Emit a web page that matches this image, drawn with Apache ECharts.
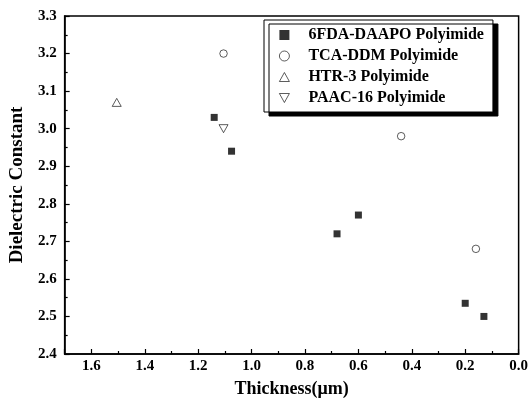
<!DOCTYPE html>
<html>
<head>
<meta charset="utf-8">
<script src="https://cdn.jsdelivr.net/npm/echarts@6/dist/echarts.min.js"></script>
<style>
html, body { margin: 0; padding: 0; background: #fff; }
#graph { width: 531px; height: 403px; }
</style>
</head>
<body>
<div id="graph"></div>
<script>
// thickness (um) / dielectric constant
var daapoX = [1.14, 1.075, 0.68, 0.60, 0.20, 0.13];
var daapoY = [3.03, 2.94, 2.72, 2.77, 2.535, 2.50];
var tcaX = [1.105, 0.44, 0.16];
var tcaY = [3.20, 2.98, 2.68];
var htrX = [1.505];
var htrY = [3.07];
var paacX = [1.105];
var paacY = [3.00];

var seriesNames = ['6FDA-DAAPO Polyimide', 'TCA-DDM Polyimide', 'HTR-3 Polyimide', 'PAAC-16 Polyimide'];

function pairs(xs, ys) {
    var out = [];
    for (var i = 0; i < xs.length; i++) out.push([xs[i], ys[i]]);
    return out;
}

var font = '"Liberation Serif", "Times New Roman", serif';
var downTriangle = 'path://M0,0 L10,0 L5,9 Z';
var upTriangle = 'path://M5,0 L10,9 L0,9 Z';
var dom = document.getElementById("graph");
var myChart = echarts.init(dom);
var option = {
    backgroundColor: '#fff',
    animation: false,
    grid: {
        left: 64, right: 10, top: 16, bottom: 45,
        show: true,
        borderColor: '#000',
        borderWidth: 1.5
    },
    legend: {
        orient: 'vertical',
        left: 264,
        top: 20,
        padding: [7, 9, 6, 15],
        itemGap: 5,
        itemWidth: 10,
        itemHeight: 10,
        backgroundColor: '#fff',
        borderColor: '#000',
        borderWidth: 1,
        borderRadius: 0,
        shadowColor: '#000',
        shadowBlur: 0,
        shadowOffsetX: 5,
        shadowOffsetY: 4,
        itemStyle: { borderWidth: 0.8 },
        textStyle: {
            fontFamily: font,
            fontWeight: 'bold',
            fontSize: 16,
            lineHeight: 16,
            color: '#000',
            padding: [0, 0, 0, 14]
        },
        data: seriesNames
    },
    xAxis: {
        type: 'value',
        inverse: true,
        min: 0,
        max: 1.7,
        interval: 0.2,
        name: 'Thickness(μm)',
        nameLocation: 'middle',
        nameGap: 26,
        nameTextStyle: { fontFamily: font, fontWeight: 'bold', fontSize: 18, color: '#000' },
        axisLine: { onZero: false, lineStyle: { color: '#000', width: 1.5 } },
        axisTick: { inside: true, length: 5, lineStyle: { color: '#000', width: 1.2 } },
        minorTick: { show: true, splitNumber: 2, length: 3, lineStyle: { color: '#000', width: 1.2 } },
        splitLine: { show: false },
        axisLabel: {
            showMaxLabel: false,
            margin: 5,
            fontFamily: font, fontWeight: 'bold', fontSize: 15, color: '#000',
            formatter: function (v) { return v.toFixed(1); }
        }
    },
    yAxis: {
        type: 'value',
        min: 2.4,
        max: 3.3,
        interval: 0.1,
        name: 'Dielectric Constant',
        nameLocation: 'middle',
        nameGap: 36,
        nameTextStyle: { fontFamily: font, fontWeight: 'bold', fontSize: 19, color: '#000' },
        axisLine: { onZero: false, lineStyle: { color: '#000', width: 1.5 } },
        axisTick: { inside: true, length: 5, lineStyle: { color: '#000', width: 1.2 } },
        minorTick: { show: true, splitNumber: 2, length: 3, lineStyle: { color: '#000', width: 1.2 } },
        splitLine: { show: false },
        axisLabel: {
            margin: 8,
            fontFamily: font, fontWeight: 'bold', fontSize: 15, color: '#000',
            formatter: function (v) { return v.toFixed(1); }
        }
    },
    series: [{
        name: seriesNames[0],
        type: 'scatter',
        symbol: 'rect',
        symbolSize: 7,
        itemStyle: { color: '#000' },
        data: pairs(daapoX, daapoY)
    }, {
        name: seriesNames[1],
        type: 'scatter',
        symbol: 'circle',
        symbolSize: 7.5,
        itemStyle: { color: '#fff', borderColor: '#000', borderWidth: 0.8 },
        data: pairs(tcaX, tcaY)
    }, {
        name: seriesNames[2],
        type: 'scatter',
        symbol: upTriangle,
        symbolSize: [9, 8],
        itemStyle: { color: '#fff', borderColor: '#000', borderWidth: 0.8 },
        data: pairs(htrX, htrY)
    }, {
        name: seriesNames[3],
        type: 'scatter',
        symbol: downTriangle,
        symbolSize: [9, 8],
        itemStyle: { color: '#fff', borderColor: '#000', borderWidth: 0.8 },
        data: pairs(paacX, paacY)
    }]
};
if (option && typeof option === "object") {
    myChart.setOption(option, true);
}
</script>
</body>
</html>
